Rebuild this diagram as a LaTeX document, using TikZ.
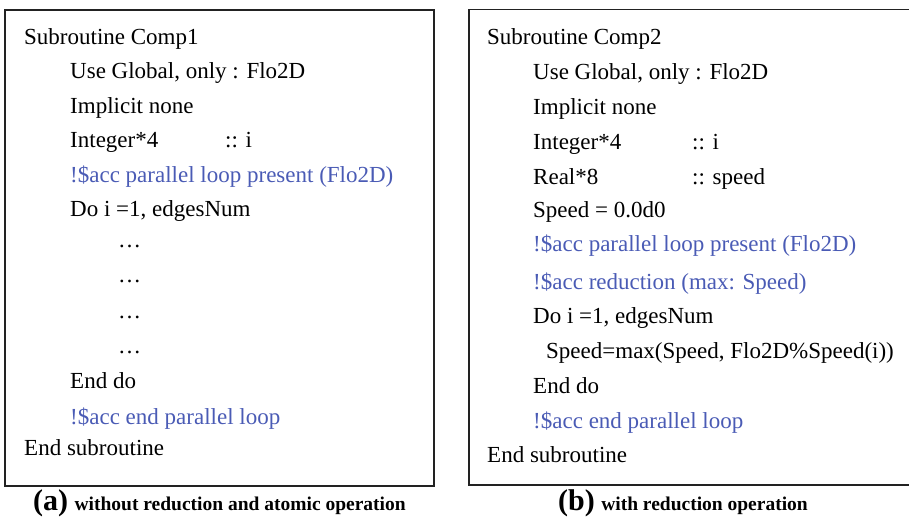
\documentclass[tikz,border=0pt]{standalone}
\usepackage{fontspec}
\setmainfont{Liberation Serif}
\definecolor{accblue}{HTML}{4A5BB5}
\definecolor{boxline}{HTML}{222222}
\begin{document}
\begin{tikzpicture}[x=1pt,y=-1pt,
  code/.style={anchor=base west,inner sep=0pt,font=\fontsize{23}{27}\selectfont,text=black},
  acc/.style={code,text=accblue},
  frame/.style={draw=boxline,line width=1.6pt},
  capl/.style={anchor=base west,inner sep=0pt,font=\bfseries\fontsize{30}{32}\selectfont},
  caps/.style={anchor=base west,inner sep=0pt,font=\bfseries\fontsize{19.5}{22}\selectfont}]
\useasboundingbox (0,0) rectangle (909,518);
% left box
\draw[frame] (5,10) rectangle (434,486);
\node[code] (l1) at (24,45) {Subroutine Comp1};
\node[code] (l2) at (70,79) {Use Global, only : Flo2D};
\node[code] (l3) at (70,114) {Implicit none};
\node[code] (l4) at (70,148) {Integer*4};
\node[code] (l4b) at (225,148) {:: i};
\node[acc] (l5) at (70,183) {!\$acc parallel loop present (Flo2D)};
\node[code] (l6) at (70,217) {Do i =1, edgesNum};
\node[code] (l7) at (118,248) {\dots};
\node[code] (l8) at (118,283) {\dots};
\node[code] (l9) at (118,318) {\dots};
\node[code] (l10) at (118,353) {\dots};
\node[code] (l11) at (70,388) {End do};
\node[acc] (l12) at (70,424) {!\$acc end parallel loop};
\node[code] (l13) at (24,455) {End subroutine};
\node[capl] (ca) at (33,510) {(a)};
\node[caps,anchor=base west] (cat) at ([xshift=6pt]ca.base east) {without reduction and atomic operation};
% right box (right side runs past the picture edge)
\draw[frame] (909,9.5) -- (469,9.5) -- (469,485) -- (909,485);
\node[code] (r1) at (487,45) {Subroutine Comp2};
\node[code] (r2) at (533,80) {Use Global, only : Flo2D};
\node[code] (r3) at (533,115) {Implicit none};
\node[code] (r4) at (533,150) {Integer*4};
\node[code] (r4b) at (692,150) {:: i};
\node[code] (r5) at (533,185) {Real*8};
\node[code] (r5b) at (692,185) {:: speed};
\node[code] (r6) at (533,218) {Speed = 0.0d0};
\node[acc] (r7) at (533,252) {!\$acc parallel loop present (Flo2D)};
\node[acc] (r8) at (533,290) {!\$acc reduction (max: Speed)};
\node[code] (r9) at (533,323) {Do i =1, edgesNum};
\node[code] (r10) at (546,358) {Speed=max(Speed, Flo2D\%Speed(i))};
\node[code] (r11) at (533,393) {End do};
\node[acc] (r12) at (533,428) {!\$acc end parallel loop};
\node[code] (r13) at (487,462) {End subroutine};
\node[capl] (cb) at (558,510) {(b)};
\node[caps,anchor=base west] (cbt) at ([xshift=6pt]cb.base east) {with reduction operation};
\end{tikzpicture}
\end{document}
